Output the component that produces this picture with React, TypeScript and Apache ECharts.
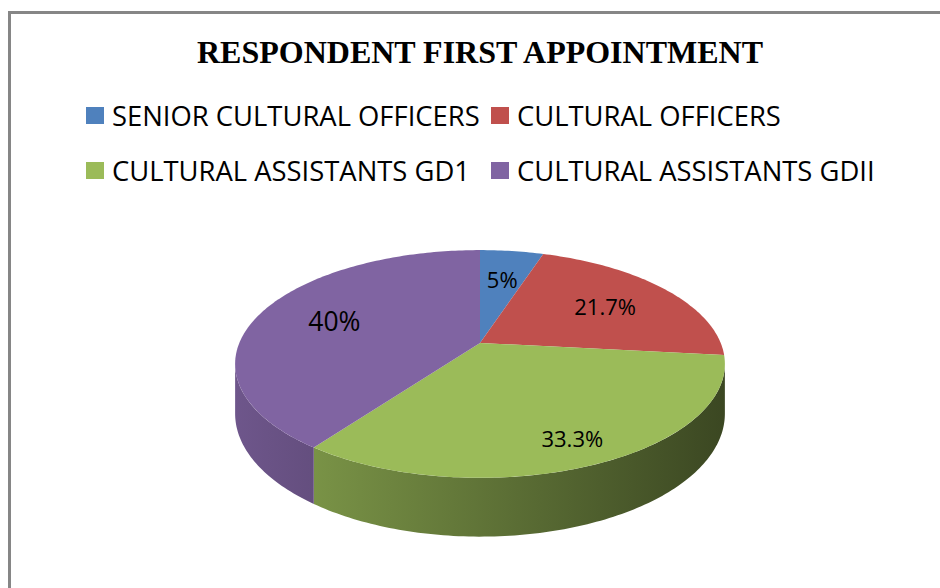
import React, { useEffect, useRef } from "react";
import * as echarts from "echarts";

// ---- data ----
const chartTitle = "RESPONDENT FIRST APPOINTMENT";
const categories = [
  "SENIOR CULTURAL OFFICERS",
  "CULTURAL OFFICERS",
  "CULTURAL ASSISTANTS GD1",
  "CULTURAL ASSISTANTS GDII",
];
const shares = [5, 21.7, 33.3, 40];

// ---- styles ----
const sliceColors = ["#4F81BD", "#C0504D", "#9BBB59", "#8064A2"];
const labelFontSizes = [22, 22, 22, 26.5];

// 3D pie geometry (perspective ellipse)
const CX = 480;
const CY = 343;
const RX = 240.7;
const RY = 110;
const PERSP = 0.184;
const DEPTH = 48;

const TWO_PI = Math.PI * 2;
const total = shares.reduce((a, b) => a + b, 0);
const startFrac = shares.map(
  (_, i) => shares.slice(0, i).reduce((a, b) => a + b, 0) / total
);

function project(phi: number, r: number) {
  const u = r * Math.sin(phi);
  const v = -r * Math.cos(phi);
  const s = 1 / (1 - PERSP * v);
  return [CX + RX * u * s, CY + RY * v * s, s];
}

function shade(hex: string, f: number) {
  const n = parseInt(hex.slice(1), 16);
  const r = Math.round(((n >> 16) & 255) * f);
  const g = Math.round(((n >> 8) & 255) * f);
  const b = Math.round((n & 255) * f);
  return `rgb(${r},${g},${b})`;
}

function arcPoints(a0: number, a1: number) {
  const n = Math.max(4, Math.ceil((a1 - a0) / (Math.PI / 180)));
  const pts: number[][] = [];
  for (let k = 0; k <= n; k++) {
    const phi = a0 + ((a1 - a0) * k) / n;
    pts.push(project(phi, 1));
  }
  return pts;
}

export default function App() {
  const ref = useRef<HTMLDivElement>(null);

  useEffect(() => {
    if (!ref.current) return;
    const chart = echarts.init(ref.current, undefined, { renderer: "svg" });

    const sideSeries = {
      type: "custom",
      name: "__side",
      coordinateSystem: "none",
      z: 1,
      silent: true,
      data: shares,
      renderItem: (params: any, api: any) => {
        const i = params.dataIndex;
        const val = api.value(0);
        const a0 = startFrac[i] * TWO_PI;
        const a1 = a0 + (val / total) * TWO_PI;
        const edge = Math.acos(-PERSP);
        const lo = Math.max(a0, edge);
        const hi = Math.min(a1, TWO_PI - edge);
        if (hi <= lo) return { type: "group", children: [] };
        const top = arcPoints(lo, hi);
        const pts: number[][] = top.map((p) => [p[0], p[1]]);
        for (let k = top.length - 1; k >= 0; k--) {
          pts.push([top[k][0], top[k][1] + DEPTH * top[k][2]]);
        }
        const c = sliceColors[i];
        return {
          type: "polygon",
          shape: { points: pts },
          style: {
            fill: {
              type: "linear",
              x: CX - RX * 1.02,
              y: 0,
              x2: CX + RX * 1.02,
              y2: 0,
              global: true,
              colorStops: [
                { offset: 0, color: shade(c, 0.86) },
                { offset: 1, color: shade(c, 0.38) },
              ],
            },
            stroke: null,
          },
        };
      },
    };

    const topSeries = categories.map((name, i) => ({
      type: "custom",
      name,
      coordinateSystem: "none",
      z: 2,
      itemStyle: { color: sliceColors[i] },
      data: [shares[i]],
      renderItem: (_params: any, api: any) => {
        const val = api.value(0);
        const a0 = startFrac[i] * TWO_PI;
        const a1 = a0 + (val / total) * TWO_PI;
        const pts: number[][] = [[CX, CY]];
        arcPoints(a0, a1).forEach((p) => pts.push([p[0], p[1]]));
        const mid = (a0 + a1) / 2;
        const r = 0.66 + 0.17 * Math.max(0, -Math.cos(mid));
        const lp = project(mid, r);
        return {
          type: "group",
          children: [
            {
              type: "polygon",
              shape: { points: pts },
              style: { fill: sliceColors[i], stroke: null },
            },
            {
              type: "text",
              x: lp[0],
              y: lp[1],
              z2: 10,
              style: {
                text: `${val}%`,
                fill: "#000000",
                font: `${labelFontSizes[i]}px "Open Sans"`,
                fontSize: labelFontSizes[i],
                fontFamily: "Open Sans",
                align: "center",
                verticalAlign: "middle",
                textAlign: "center",
                textVerticalAlign: "middle",
              },
            },
          ],
        };
      },
    }));

    const legendPos = [
      { left: 86, top: 102 },
      { left: 491, top: 102 },
      { left: 86, top: 157 },
      { left: 491, top: 157 },
    ];

    const legends = categories.map((name, i) => ({
      data: [name],
      left: legendPos[i].left,
      top: legendPos[i].top,
      orient: "horizontal",
      padding: 0,
      icon: "rect",
      itemWidth: 18,
      itemHeight: 17,
      selectedMode: false,
      textStyle: {
        fontFamily: "Open Sans",
        fontSize: 27.4,
        color: "#000000",
        padding: [0, 0, 0, 3],
      },
    }));

    chart.setOption({
      animation: false,
      backgroundColor: "#ffffff",
      color: sliceColors,
      title: {
        text: chartTitle,
        left: 475,
        top: 31,
        textAlign: "center",
        textStyle: {
          fontFamily: "Liberation Serif",
          fontWeight: "bold",
          fontSize: 32,
          color: "#000000",
        },
      },
      legend: legends,
      graphic: [
        {
          type: "rect",
          shape: { x: 9.5, y: 12.5, width: 1000, height: 1000 },
          style: { fill: "none", stroke: "#868686", lineWidth: 3 },
          silent: true,
        },
      ],
      series: [sideSeries, ...topSeries],
    });

    return () => chart.dispose();
  }, []);

  return (
    <div
      ref={ref}
      style={{ position: "fixed", left: 0, top: 0, width: 940, height: 588 }}
    />
  );
}
